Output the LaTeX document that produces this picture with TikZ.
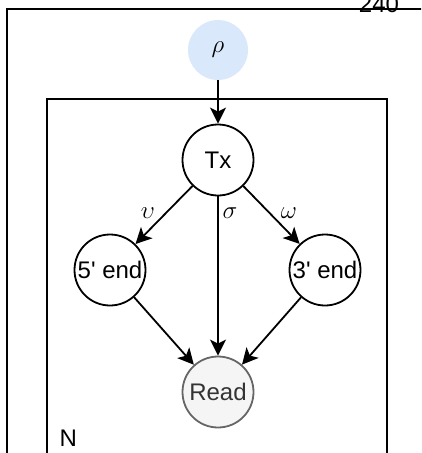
\documentclass[tikz,border=0pt]{standalone}
\usepackage{fontspec}
\setmainfont{Liberation Sans}[Ligatures=TeXOff]
\usetikzlibrary{arrows.meta}
\begin{document}
\begin{tikzpicture}[x=1pt,y=-1pt,
  var/.style={circle,draw=black,line width=1.8pt,minimum size=71pt,inner sep=0pt,
    font=\fontsize{24}{26}\selectfont},
  param/.style={circle,fill={rgb,255:red,218;green,232;blue,252},
    minimum size=60pt,inner sep=0pt,font=\fontsize{24}{26}\selectfont},
  obs/.style={var,draw={rgb,255:red,102;green,102;blue,102},fill={rgb,255:red,245;green,245;blue,245},
    text={rgb,255:red,51;green,51;blue,51}},
  edge/.style={line width=1.8pt,-{Stealth[length=16pt,width=16pt,inset=4pt]}},
  elabel/.style={font=\fontsize{24}{26}\selectfont},
  plate/.style={line width=1.8pt}]
\useasboundingbox (0,0) rectangle (421,453);
\clip (0,0) rectangle (421,453);
% outer frame and page number, partly outside the view
\draw[plate] (7,470) -- (7,9) -- (440,9);
\node[anchor=base,font=\fontsize{24}{26}\selectfont] (pg) at (379,12) {240};
% plate
\draw[plate] (47,470) -- (47,99) -- (387,99) -- (387,470);
\node[anchor=base west,font=\fontsize{24}{26}\selectfont] (n) at (56,446) {N};
% nodes
\node[param] (rho) at (218,50) {$\rho$};
\node[var] (tx) at (218,160) {Tx};
\node[var] (five) at (110,270) {5' end};
\node[var] (three) at (325,270) {3' end};
\node[obs] (read) at (218,392) {Read};
% edges
\draw[edge] (rho) -- (tx);
\draw[edge] (tx) -- (five);
\draw[edge] (tx) -- (three);
\draw[edge] (tx) -- (read);
\draw[edge] (five) -- (read);
\draw[edge] (three) -- (read);
% edge labels
\node[elabel] (lu) at (148,213) {$\upsilon$};
\node[elabel] (ls) at (230,213) {$\sigma$};
\node[elabel] (lw) at (289,213) {$\omega$};
\end{tikzpicture}
\end{document}
